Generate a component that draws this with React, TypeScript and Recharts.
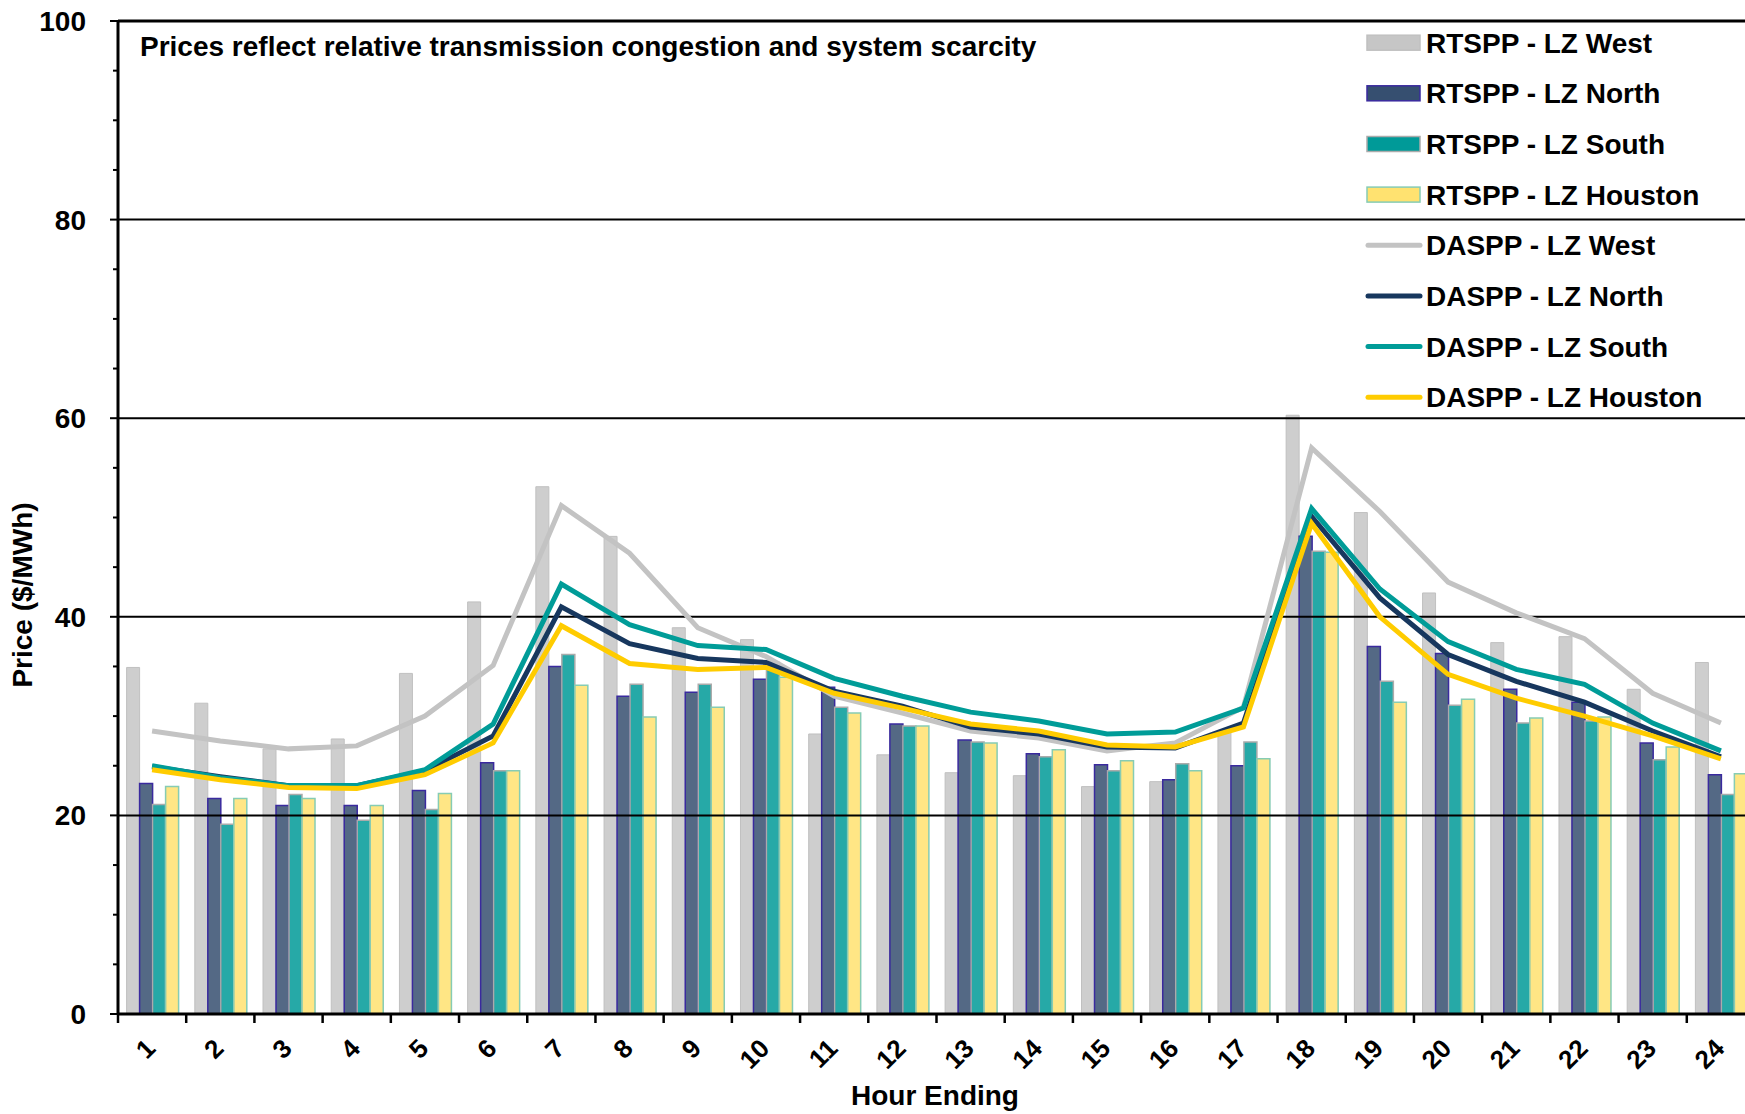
import React from 'react';
import { ComposedChart, Bar, Line, XAxis, YAxis, ReferenceLine } from 'recharts';

const hours = ['1', '2', '3', '4', '5', '6', '7', '8', '9', '10', '11', '12', '13', '14', '15', '16', '17', '18', '19', '20', '21', '22', '23', '24'];

// real time settlement point prices by load zone
const rtWest = [34.9, 31.3, 26.7, 27.7, 34.3, 41.5, 53.1, 48.1, 38.9, 37.7, 28.2, 26.1, 24.3, 24.0, 22.9, 23.4, 28.5, 60.3, 50.5, 42.4, 37.4, 38.0, 32.7, 35.4];
const rtNorth = [23.2, 21.7, 21.0, 21.0, 22.5, 25.3, 35.0, 32.0, 32.4, 33.7, 32.9, 29.2, 27.6, 26.2, 25.1, 23.6, 25.0, 48.1, 37.0, 36.3, 32.7, 31.4, 27.3, 24.1];
const rtSouth = [21.1, 19.1, 22.1, 19.5, 20.6, 24.5, 36.2, 33.2, 33.2, 35.4, 30.9, 29.0, 27.4, 25.9, 24.5, 25.2, 27.4, 46.6, 33.5, 31.1, 29.3, 29.5, 25.6, 22.1];
const rtHouston = [22.9, 21.7, 21.7, 21.0, 22.2, 24.5, 33.1, 29.9, 30.9, 33.9, 30.3, 29.0, 27.3, 26.6, 25.5, 24.5, 25.7, 46.5, 31.4, 31.7, 29.8, 29.9, 26.9, 24.2];

// day ahead settlement point prices by load zone
const daWest = [28.5, 27.5, 26.7, 27.0, 30.0, 35.1, 51.2, 46.4, 38.9, 36.0, 32.0, 30.3, 28.5, 27.8, 26.5, 27.3, 30.9, 57.0, 50.6, 43.5, 40.4, 37.8, 32.3, 29.3];
const daNorth = [24.9, 23.9, 23.0, 23.0, 24.5, 28.0, 41.0, 37.3, 35.8, 35.4, 32.5, 31.0, 28.9, 28.2, 26.9, 26.8, 29.3, 50.1, 41.9, 36.2, 33.5, 31.4, 28.5, 25.9];
const daSouth = [25.0, 23.8, 23.0, 23.0, 24.6, 29.2, 43.3, 39.2, 37.1, 36.7, 33.8, 32.0, 30.4, 29.5, 28.2, 28.4, 30.8, 50.9, 42.8, 37.5, 34.7, 33.2, 29.3, 26.5];
const daHouston = [24.6, 23.6, 22.8, 22.7, 24.1, 27.3, 39.1, 35.3, 34.7, 34.9, 32.3, 30.8, 29.2, 28.5, 27.1, 26.9, 28.9, 49.4, 40.0, 34.2, 31.8, 30.0, 28.0, 25.7];

const yTicks = [0, 5, 10, 15, 20, 25, 30, 35, 40, 45, 50, 55, 60, 65, 70, 75, 80, 85, 90, 95, 100];
const gridValues = [20, 40, 60, 80];

const data = hours.map((hour, i) => ({
  hour,
  rtWest: rtWest[i],
  rtNorth: rtNorth[i],
  rtSouth: rtSouth[i],
  rtHouston: rtHouston[i],
  daWest: daWest[i],
  daNorth: daNorth[i],
  daSouth: daSouth[i],
  daHouston: daHouston[i],
}));

const FONT = '"Liberation Sans", Arial, Helvetica, sans-serif';
const CHART_W = 1770;
const CHART_H = 1114;
const PLOT_LEFT = 118;
const PLOT_RIGHT_MARGIN = 15;
const BAND = (CHART_W - PLOT_LEFT - PLOT_RIGHT_MARGIN) / hours.length;

const barItems = [
  { name: 'RTSPP - LZ West', fill: '#C6C6C6', stroke: '#C0C0C0' },
  { name: 'RTSPP - LZ North', fill: '#364F70', stroke: '#3A2A9E' },
  { name: 'RTSPP - LZ South', fill: '#009A98', stroke: '#ABABAB' },
  { name: 'RTSPP - LZ Houston', fill: '#FFE270', stroke: '#86CCB4' },
];
const lineItems = [
  { name: 'DASPP - LZ West', stroke: '#C3C3C3' },
  { name: 'DASPP - LZ North', stroke: '#17375E' },
  { name: 'DASPP - LZ South', stroke: '#009C98' },
  { name: 'DASPP - LZ Houston', stroke: '#FFCC00' },
];

const YTick = (props: any) => {
  const { x, y, payload } = props;
  const major = payload.value % 20 === 0;
  return (
    <g>
      <line x1={x + (major ? 24 : 27)} x2={x + 32} y1={y} y2={y} stroke="#000" strokeWidth={2} />
      {major && (
        <text x={x} y={y} dy="0.36em" textAnchor="end" fontFamily={FONT} fontWeight="bold" fontSize={28} fill="#000">
          {payload.value}
        </text>
      )}
    </g>
  );
};

const XTick = (props: any) => {
  const { x, y, payload } = props;
  const axisY = y - 8;
  const tx = x + 5;
  const ty = axisY + 36;
  const last = payload.value === hours[hours.length - 1];
  return (
    <g>
      <line x1={x - BAND / 2} x2={x - BAND / 2} y1={axisY} y2={axisY + 9} stroke="#000" strokeWidth={2.5} />
      {last && <line x1={x + BAND / 2} x2={x + BAND / 2} y1={axisY} y2={axisY + 9} stroke="#000" strokeWidth={2.5} />}
      <text
        x={tx}
        y={ty}
        transform={`rotate(-45, ${tx}, ${ty})`}
        textAnchor="end"
        fontFamily={FONT}
        fontWeight="bold"
        fontSize={26}
        fill="#000"
      >
        {payload.value}
      </text>
    </g>
  );
};

const legendRows = [42.7, 93.3, 144, 194.6, 245.3, 295.9, 346.5, 397.2];

const App: React.FC = () => {
  return (
    <div style={{ position: 'fixed', left: 0, top: 0, width: 1745, height: 1114, overflow: 'hidden', background: '#fff' }}>
      <ComposedChart
        width={CHART_W}
        height={CHART_H}
        data={data}
        margin={{ top: 21, right: PLOT_RIGHT_MARGIN, bottom: 0, left: 0 }}
        barCategoryGap="12.6%"
        barGap={0}
      >
        <XAxis
          dataKey="hour"
          height={100}
          interval={0}
          tickSize={8}
          tickMargin={0}
          tickLine={false}
          tick={<XTick />}
          axisLine={{ stroke: '#000', strokeWidth: 3 }}
        />
        <YAxis
          type="number"
          domain={[0, 100]}
          ticks={yTicks}
          interval={0}
          width={PLOT_LEFT}
          tickSize={8}
          tickMargin={24}
          tickLine={false}
          tick={<YTick />}
          axisLine={{ stroke: '#000', strokeWidth: 3 }}
        />
        {gridValues.map((v) => (
          <ReferenceLine key={v} y={v} stroke="#000" strokeWidth={2} />
        ))}
        <ReferenceLine y={100} stroke="#000" strokeWidth={3} />
        <Bar dataKey="rtWest" name={barItems[0].name} fill={barItems[0].fill} stroke={barItems[0].stroke} strokeWidth={1} fillOpacity={0.85} isAnimationActive={false} />
        <Bar dataKey="rtNorth" name={barItems[1].name} fill={barItems[1].fill} stroke={barItems[1].stroke} strokeWidth={1.5} fillOpacity={0.85} isAnimationActive={false} />
        <Bar dataKey="rtSouth" name={barItems[2].name} fill={barItems[2].fill} stroke={barItems[2].stroke} strokeWidth={1.5} fillOpacity={0.85} isAnimationActive={false} />
        <Bar dataKey="rtHouston" name={barItems[3].name} fill={barItems[3].fill} stroke={barItems[3].stroke} strokeWidth={1.5} fillOpacity={0.85} isAnimationActive={false} />
        <Line type="linear" dataKey="daWest" name={lineItems[0].name} stroke={lineItems[0].stroke} strokeWidth={5} dot={false} isAnimationActive={false} />
        <Line type="linear" dataKey="daNorth" name={lineItems[1].name} stroke={lineItems[1].stroke} strokeWidth={5} dot={false} isAnimationActive={false} />
        <Line type="linear" dataKey="daSouth" name={lineItems[2].name} stroke={lineItems[2].stroke} strokeWidth={5} dot={false} isAnimationActive={false} />
        <Line type="linear" dataKey="daHouston" name={lineItems[3].name} stroke={lineItems[3].stroke} strokeWidth={5} dot={false} isAnimationActive={false} />
      </ComposedChart>
      <svg width={1745} height={1114} style={{ position: 'absolute', left: 0, top: 0, pointerEvents: 'none' }}>
        <text x={140} y={56} fontFamily={FONT} fontWeight="bold" fontSize={28} fill="#000">
          Prices reflect relative transmission congestion and system scarcity
        </text>
        <text
          x={32}
          y={595}
          transform="rotate(-90, 32, 595)"
          textAnchor="middle"
          fontFamily={FONT}
          fontWeight="bold"
          fontSize={28}
          fill="#000"
        >
          Price ($/MWh)
        </text>
        <text x={935} y={1105} textAnchor="middle" fontFamily={FONT} fontWeight="bold" fontSize={28} fill="#000">
          Hour Ending
        </text>
        {barItems.map((b, i) => (
          <g key={b.name}>
            <rect x={1367} y={legendRows[i] - 7.5} width={53} height={15} fill={b.fill} stroke={b.stroke} strokeWidth={1.5} />
            <text x={1426} y={legendRows[i] + 10} fontFamily={FONT} fontWeight="bold" fontSize={28} fill="#000">
              {b.name}
            </text>
          </g>
        ))}
        {lineItems.map((l, i) => (
          <g key={l.name}>
            <line x1={1368} x2={1420} y1={legendRows[i + 4]} y2={legendRows[i + 4]} stroke={l.stroke} strokeWidth={5} strokeLinecap="round" />
            <text x={1426} y={legendRows[i + 4] + 10} fontFamily={FONT} fontWeight="bold" fontSize={28} fill="#000">
              {l.name}
            </text>
          </g>
        ))}
      </svg>
    </div>
  );
};

export default App;
